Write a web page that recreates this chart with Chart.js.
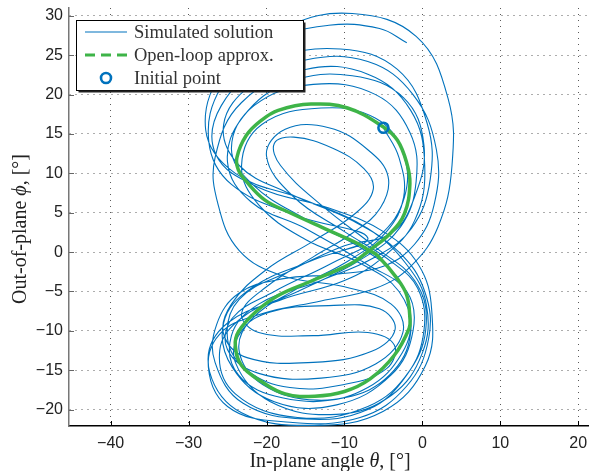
<!DOCTYPE html>
<html><head><meta charset="utf-8">
<script src="https://cdn.jsdelivr.net/npm/chart.js@4/dist/chart.umd.min.js"></script>
<style>html,body{margin:0;padding:0;background:#fff;}#wrap{width:596px;height:471px;position:relative;}</style>
</head><body><div id="wrap"><canvas id="c" width="596" height="471"></canvas></div>
<script>
// ---- data (degrees) ----
const xTicks = [-40, -30, -20, -10, 0, 10, 20];
const yTicks = [-20, -15, -10, -5, 0, 5, 10, 15, 20, 25, 30];
const initialPoint = [-5.0, 15.8];
const approxTheta = [-6.8,-4.1,-2.3,-1.6,-2.0,-3.2,-5.0,-9.6,-14.3,-18.5,-20.7,-22.6,-23.8,-23.6,-22.7,-20.2,-17.2,-12.1,-8.3,-6.8,-5.8,-3.2,-2.0,-1.6,-1.7,-3.6,-6.7,-10.0,-13.8,-17.6,-20.7,-23.2,-24.0,-23.6,-21.4,-18.5,-14.3,-10.5,-8.7,-6.8];
const approxPhi   = [0.2,2.4,4.9,8.7,11.3,14.2,15.9,18.3,18.8,18.0,16.7,14.8,12.0,10.4,9.1,6.6,5.1,2.8,1.1,0.2,-0.4,-3.4,-5.5,-8.4,-9.7,-13.1,-16.1,-17.7,-18.3,-18.0,-16.4,-14.4,-11.9,-10.1,-7.6,-5.5,-3.7,-2.1,-1.2,0.2];
// simulated trajectory, read loop by loop as [theta, phi]
const simStart = [[-5.0,15.8],[-3.0,12.0],[-2.4,7.0],[-4.6,2.6],[-9.0,-0.8],[-16.0,-4.6],[-22.0,-8.6],[-23.5,-12.6],[-20.5,-16.8],[-13.5,-18.8],[-7.0,-17.2],[-2.6,-12.8],[-1.5,-8.0],[-3.4,-3.0],[-8.0,0.6]];
const simLoop1 = [[-15.0,4.2],[-21.8,8.6],[-24.5,13.2],[-21.6,18.6],[-14.0,21.3],[-6.0,20.0],[-1.6,15.2],[-0.8,9.0],[-2.8,3.2],[-8.0,-1.0],
  [-16.0,-5.0],[-23.0,-8.2],[-26.0,-12.5],[-24.0,-18.0],[-16.0,-21.0],[-7.0,-19.6],[-1.6,-15.0],[0.5,-9.0],[-1.0,-3.6],[-6.0,0.6]];
const simLoop2 = [[-13.0,6.0],[-18.2,11.0],[-19.0,13.8],[-16.5,14.6],[-11.5,13.2],[-7.5,10.6],[-6.3,8.0],[-8.5,5.0],[-14.0,1.4],[-20.0,-2.2],
  [-24.5,-6.6],[-25.5,-10.4],[-22.5,-13.4],[-14.0,-14.0],[-6.5,-12.6],[-3.5,-9.8],[-5.5,-7.2],[-12.0,-6.8],[-19.5,-7.6],[-23.2,-10.0],[-24.0,-14.0],[-19.5,-19.0],[-11.0,-20.6],[-4.0,-18.2],[0.0,-12.8],[0.5,-6.6],[-2.0,-1.6],[-7.0,3.0]];
const simLoop3 = [[-15.0,6.6],[-24.0,10.0],[-27.8,15.5],[-25.5,23.0],[-17.5,28.6],[-9.0,30.3],[-0.8,27.4],[3.3,19.5],[3.8,11.0],[2.0,3.2],[-1.5,-1.8],
  [-6.0,-4.6],[-13.0,-6.2],[-20.5,-7.8],[-26.0,-10.4],[-27.3,-15.2],[-23.2,-20.4],[-14.0,-22.0],[-5.0,-20.2],[0.4,-14.4],[1.2,-7.4],[-0.5,-1.6],[-5.0,2.6]];
const simLoop4 = [[-12.0,5.6],[-21.0,8.2],[-26.5,12.4],[-25.8,18.6],[-19.5,24.2],[-10.5,25.8],[-3.2,23.2],[0.6,16.4],[1.0,9.2],[-1.4,3.0],[-6.0,-0.6],
  [-13.0,-3.6],[-21.0,-6.6],[-24.5,-10.6],[-23.6,-15.6],[-18.0,-18.5],[-10.0,-18.5],[-4.2,-15.6],[-1.5,-10.2],[-3.0,-5.0],[-8.0,-1.4],[-15.0,1.6]];
const simLoop5 = [[-21.0,6.0],[-23.2,11.0],[-20.6,16.2],[-13.0,18.3],[-6.0,17.0],[-2.5,12.6],[-2.3,7.0],[-5.6,2.0],[-12.0,-1.6],
  [-19.0,-5.0],[-24.4,-8.4],[-25.0,-12.4],[-21.0,-15.4],[-13.0,-16.0],[-6.0,-14.2],[-2.5,-10.2],[-4.0,-6.6],[-10.0,-4.4],[-18.0,-3.0],[-23.5,0.2]];
const simLoop6 = [[-26.2,6.0],[-26.6,12.0],[-23.2,19.0],[-15.0,23.2],[-7.0,22.6],[-1.5,18.0],[0.3,11.0],[-1.0,4.0],[-5.0,-0.6],
  [-10.0,-3.6],[-18.0,-6.0],[-25.0,-9.0],[-27.5,-13.6],[-25.0,-19.6],[-17.0,-21.6],[-8.0,-21.0],[-2.0,-17.0],[0.8,-11.0],[0.3,-5.0],[-3.0,0.0]];
const simLoop7 = [[-9.0,4.0],[-17.0,7.4],[-23.5,11.0],[-25.5,16.2],[-22.0,21.2],[-15.0,24.4],[-7.0,24.2],[-1.2,20.0],[1.8,13.0],[1.5,6.0],[-1.0,1.0],
  [-5.0,-1.8],[-11.0,-2.8],[-18.0,-3.4],[-23.5,-5.2],[-26.4,-9.2],[-26.6,-14.0],[-23.0,-19.2],[-15.0,-21.2],[-7.0,-20.0],[-2.0,-15.6],[0.2,-10.0],[-0.6,-4.6],[-4.0,-1.2]];
const simLoop8 = [[-10.0,2.6],[-16.5,7.0],[-20.0,12.2],[-17.6,15.6],[-12.0,15.8],[-7.0,13.0],[-4.4,9.6],[-5.4,5.6],[-9.0,2.4],[-14.0,-0.6],
  [-20.0,-4.4],[-23.2,-7.8],[-21.0,-10.2],[-14.0,-10.6],[-7.0,-10.2],[-3.6,-11.8],[-4.6,-14.8],[-10.0,-16.8],[-17.0,-17.2],[-22.5,-15.0],[-25.0,-11.0],[-23.5,-6.0],[-17.0,-2.4],[-10.0,0.8]];
const simLoop9 = [[-4.0,2.4],[-1.0,7.0],[0.2,13.6],[-2.4,19.6],[-9.0,22.4],[-17.0,21.6],[-23.0,17.2],[-25.0,11.4],[-22.0,6.4],[-15.0,3.0],[-7.0,-1.6],
  [-2.0,-5.0],[-1.2,-10.0],[-4.0,-15.6],[-11.0,-19.4],[-19.0,-19.0],[-24.4,-14.6],[-25.5,-9.0],[-22.0,-4.6],[-14.0,-1.0],[-7.0,1.8]];
const simEnd = [[-16.0,4.6],[-24.5,8.6],[-27.4,14.0],[-25.8,21.0],[-20.0,26.6],[-12.0,28.8],[-5.5,28.4],[-2.0,26.6]];
const legendLabels = ['Simulated solution', 'Open-loop approx.', 'Initial point'];

// ---- build datasets ----
const simPath = [].concat(simStart, simLoop1, simLoop2, simLoop3, simLoop4, simLoop5, simLoop6, simLoop7, simLoop8, simLoop9, simEnd)
  .map(p => ({x: p[0], y: p[1]}));
const approxPath = approxTheta.map((t, i) => ({x: t, y: approxPhi[i]}));

const BLUE = 'rgb(0,114,189)';
const GREEN = 'rgb(62,180,72)';

const fmt = v => (v < 0 ? '\u2212' + Math.abs(v) : String(v));

const overlay = {
  id: 'overlay',
  afterDraw(chart) {
    const ctx = chart.ctx;
    const xs = chart.scales.x, ys = chart.scales.y;
    const a = chart.chartArea;
    ctx.save();
    // inward tick marks
    ctx.strokeStyle = '#000'; ctx.lineWidth = 1;
    xTicks.forEach(v => { const px = Math.round(xs.getPixelForValue(v)) + 0.5; ctx.beginPath(); ctx.moveTo(px, a.bottom); ctx.lineTo(px, a.bottom - 5); ctx.stroke(); });
    ctx.strokeStyle = '#666';
    yTicks.forEach(v => { const py = Math.round(ys.getPixelForValue(v)) + 0.5; ctx.beginPath(); ctx.moveTo(a.left, py); ctx.lineTo(a.left + 5, py); ctx.stroke(); });

    // legend
    const lx = 76.5, ly = 20.5, lw = 227, lh = 70;
    ctx.fillStyle = '#fff'; ctx.fillRect(lx, ly, lw, lh);
    ctx.strokeStyle = '#000'; ctx.lineWidth = 1; ctx.strokeRect(lx, ly, lw, lh);
    ctx.lineWidth = 2; ctx.strokeStyle = '#222';
    ctx.beginPath(); ctx.moveTo(lx + lw + 1, ly + 2); ctx.lineTo(lx + lw + 1, ly + lh + 1); ctx.lineTo(lx + 2, ly + lh + 1); ctx.stroke();
    const rows = [32, 55, 78];
    ctx.strokeStyle = BLUE; ctx.lineWidth = 1.2; ctx.setLineDash([]);
    ctx.beginPath(); ctx.moveTo(85, rows[0]); ctx.lineTo(127, rows[0]); ctx.stroke();
    ctx.strokeStyle = GREEN; ctx.lineWidth = 3; ctx.setLineDash([10, 6]);
    ctx.beginPath(); ctx.moveTo(85, rows[1]); ctx.lineTo(127, rows[1]); ctx.stroke();
    ctx.setLineDash([]);
    ctx.strokeStyle = BLUE; ctx.lineWidth = 2.6;
    ctx.beginPath(); ctx.arc(106, rows[2], 5, 0, Math.PI * 2); ctx.stroke();
    ctx.fillStyle = '#333'; ctx.font = '18.5px "Liberation Serif", "DejaVu Serif", serif'; ctx.textBaseline = 'middle'; ctx.textAlign = 'left';
    legendLabels.forEach((t, i) => ctx.fillText(t, 134, rows[i] + 1));

    // axis titles with italic symbols
    const drawParts = (parts, cx, cy, rot) => {
      ctx.save();
      ctx.translate(cx, cy); ctx.rotate(rot);
      let total = 0;
      parts.forEach(p => { ctx.font = p[1]; total += ctx.measureText(p[0]).width; });
      let x = -total / 2;
      ctx.textBaseline = 'middle'; ctx.textAlign = 'left'; ctx.fillStyle = '#222';
      parts.forEach(p => { ctx.font = p[1]; ctx.fillText(p[0], x, 0); x += ctx.measureText(p[0]).width; });
      ctx.restore();
    };
    const nf = '20px "Liberation Serif", "DejaVu Serif", serif';
    const itf = 'italic 20px "Liberation Serif", "DejaVu Serif", serif';
    drawParts([['In-plane angle ', nf], ['\u03B8', itf], [', [\u00B0]', nf]], 330, 462, 0);
    drawParts([['Out-of-plane ', nf], ['\u03D5', itf], [', [\u00B0]', nf]], 21, 229, -Math.PI / 2);
    ctx.restore();
  }
};

new Chart(document.getElementById('c'), {
  type: 'scatter',
  data: {
    datasets: [
      { label: legendLabels[2], data: [{x: initialPoint[0], y: initialPoint[1]}], pointRadius: 5, pointBorderWidth: 2.6,
        pointBorderColor: BLUE, pointBackgroundColor: 'rgba(0,0,0,0)', showLine: false, order: 0 },
      { label: legendLabels[1], data: approxPath, showLine: true, borderColor: GREEN, borderWidth: 3.5, pointRadius: 0,
        tension: 0.4, fill: false, order: 1 },
      { label: legendLabels[0], data: simPath, showLine: true, borderColor: BLUE, borderWidth: 1.1, pointRadius: 0,
        tension: 0.4, fill: false, order: 2 }
    ]
  },
  options: {
    responsive: false, animation: false, devicePixelRatio: 1,
    layout: { padding: { left: 0, right: 3, top: 8, bottom: 0 } },
    plugins: { legend: { display: false }, tooltip: { enabled: false } },
    scales: {
      x: {
        type: 'linear', min: -45.34, max: 21.3,
        afterBuildTicks: s => { s.ticks = xTicks.map(v => ({value: v})); },
        afterFit: s => { s.height = 45; s.paddingLeft = 0; s.paddingRight = 0; },
        ticks: { callback: v => fmt(v), font: { family: '"Liberation Sans", Arial, sans-serif', size: 16 }, color: '#222', padding: 8, maxRotation: 0 },
        grid: { color: '#5a5a5a', lineWidth: 1, drawTicks: false },
        border: { display: true, color: '#000', width: 1.5, dash: [1, 5] }
      },
      y: {
        type: 'linear', min: -22.08, max: 31,
        afterBuildTicks: s => { s.ticks = yTicks.map(v => ({value: v})); },
        afterFit: s => { s.width = 69; s.paddingTop = 0; s.paddingBottom = 0; },
        ticks: { callback: v => fmt(v), font: { family: '"Liberation Sans", Arial, sans-serif', size: 16 }, color: '#222', padding: 6 },
        grid: { color: '#5a5a5a', lineWidth: 1, drawTicks: false },
        border: { display: true, color: '#777', width: 1.5, dash: [1, 5] }
      }
    }
  },
  plugins: [overlay]
});
</script></body></html>
